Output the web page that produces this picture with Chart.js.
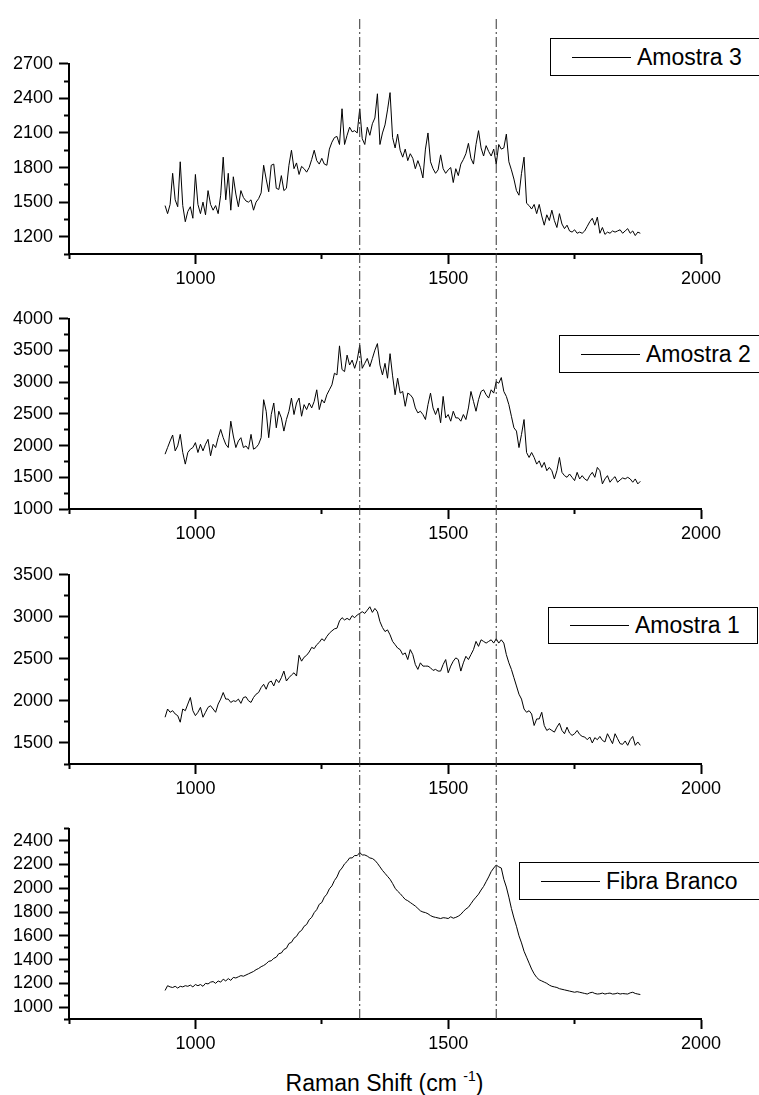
<!DOCTYPE html>
<html lang="pt">
<head>
<meta charset="utf-8">
<title>Raman Shift</title>
<script src="https://cdn.jsdelivr.net/npm/chart.js@4.4.1/dist/chart.umd.min.js"></script>
<style>
  html, body { margin: 0; padding: 0; background: #fff; }
  body { position: relative; width: 759px; height: 1095px; overflow: hidden; font-family: Arial, "Liberation Sans", sans-serif; }
  canvas { position: absolute; left: 0; }
  .legenda { position: absolute; box-sizing: border-box; height: 38px; border: 1px solid #000; display: flex; align-items: center; padding-left: 21px; font-size: 23px; color: #000; white-space: nowrap; }
  .legenda .traco { display: inline-block; width: 59px; height: 1px; background: #000; margin-right: 6px; }
  #titulo { position: absolute; left: 0; width: 769px; top: 1072px; text-align: center; font-size: 23px; line-height: 1; color: #000; white-space: nowrap; }
  #titulo sup { font-size: 14px; vertical-align: 10px; line-height: 0; }
</style>
</head>
<body>

<div class="legenda" style="left:550px; top:38px; width:215px;"><span class="traco"></span>Amostra 3</div>
<div class="legenda" style="left:559px; top:335px; width:210px;"><span class="traco"></span>Amostra 2</div>
<div class="legenda" style="left:548px; top:607px; width:210px; height:37px;"><span class="traco"></span>Amostra 1</div>
<div class="legenda" style="left:519px; top:862px; width:250px;"><span class="traco"></span>Fibra Branco</div>
<div id="titulo">Raman Shift (cm <sup>-1</sup>)</div>

<script>
// deslocamento Raman (cm-1), um ponto a cada 5
const ramanShift = [
  940, 945, 950, 955, 960, 965, 970, 975, 980, 985, 990, 995, 1000, 1005, 1010, 1015, 1020, 1025, 1030, 1035,
  1040, 1045, 1050, 1055, 1060, 1065, 1070, 1075, 1080, 1085, 1090, 1095, 1100, 1105, 1110, 1115, 1120, 1125, 1130, 1135,
  1140, 1145, 1150, 1155, 1160, 1165, 1170, 1175, 1180, 1185, 1190, 1195, 1200, 1205, 1210, 1215, 1220, 1225, 1230, 1235,
  1240, 1245, 1250, 1255, 1260, 1265, 1270, 1275, 1280, 1285, 1290, 1295, 1300, 1305, 1310, 1315, 1320, 1325, 1330, 1335,
  1340, 1345, 1350, 1355, 1360, 1365, 1370, 1375, 1380, 1385, 1390, 1395, 1400, 1405, 1410, 1415, 1420, 1425, 1430, 1435,
  1440, 1445, 1450, 1455, 1460, 1465, 1470, 1475, 1480, 1485, 1490, 1495, 1500, 1505, 1510, 1515, 1520, 1525, 1530, 1535,
  1540, 1545, 1550, 1555, 1560, 1565, 1570, 1575, 1580, 1585, 1590, 1595, 1600, 1605, 1610, 1615, 1620, 1625, 1630, 1635,
  1640, 1645, 1650, 1655, 1660, 1665, 1670, 1675, 1680, 1685, 1690, 1695, 1700, 1705, 1710, 1715, 1720, 1725, 1730, 1735,
  1740, 1745, 1750, 1755, 1760, 1765, 1770, 1775, 1780, 1785, 1790, 1795, 1800, 1805, 1810, 1815, 1820, 1825, 1830, 1835,
  1840, 1845, 1850, 1855, 1860, 1865, 1870, 1875, 1880
];

// intensidades
const amostra3 = [
  1470, 1400, 1480, 1750, 1520, 1460, 1850, 1470, 1330, 1420, 1460, 1360, 1740, 1480, 1400, 1500, 1390, 1600, 1480, 1430,
  1470, 1400, 1560, 1890, 1520, 1750, 1430, 1720, 1570, 1460, 1600, 1540, 1510, 1500, 1520, 1430, 1500, 1530, 1580, 1820,
  1700, 1590, 1820, 1830, 1620, 1610, 1730, 1600, 1620, 1820, 1950, 1790, 1840, 1740, 1810, 1790, 1760, 1800, 1870, 1950,
  1860, 1830, 1880, 1830, 1820, 1960, 2020, 2060, 2070, 2000, 2310, 2000, 2080, 2150, 2110, 2120, 2100, 2310, 2050, 2000,
  2150, 2080, 2180, 2230, 2440, 2000, 2100, 2170, 2300, 2450, 2060, 1970, 2090, 1950, 1890, 1960, 1860, 1920, 1880, 1790,
  1860, 1800, 1710, 1960, 2100, 1850, 1790, 1750, 1780, 1910, 1790, 1750, 1780, 1800, 1670, 1790, 1730, 1830, 1870, 1920,
  2010, 1880, 1830, 2000, 2120, 1970, 1900, 1990, 1940, 1900, 1960, 1830, 2000, 1960, 1970, 2090, 1850, 1780, 1700, 1600,
  1560, 1750, 1890, 1490, 1470, 1440, 1480, 1400, 1480, 1380, 1300, 1390, 1340, 1430, 1340, 1280, 1400, 1310, 1270, 1300,
  1250, 1240, 1260, 1230, 1240, 1230, 1250, 1290, 1330, 1360, 1300, 1370, 1230, 1280, 1220, 1240, 1230, 1250, 1240, 1250,
  1260, 1230, 1250, 1270, 1230, 1250, 1210, 1240, 1230
];

const amostra2 = [
  1865, 1969, 2073, 2167, 1917, 1995, 2177, 1891, 1708, 1891, 1943, 1969, 2047, 1891, 2021, 1917, 2021, 2099, 1839, 2021,
  1969, 2125, 2255, 2125, 2021, 1969, 2385, 2151, 1969, 2073, 2125, 1969, 1995, 1943, 2177, 1943, 1969, 2021, 2125, 2724,
  2542, 2125, 2490, 2672, 2281, 2542, 2437, 2229, 2411, 2542, 2750, 2490, 2672, 2750, 2463, 2646, 2568, 2672, 2594, 2698,
  2880, 2568, 2724, 2672, 2802, 2880, 2958, 3141, 3115, 3573, 3200, 3167, 3427, 3271, 3349, 3219, 3349, 3583, 3219, 3297,
  3375, 3245, 3375, 3505, 3609, 3271, 3115, 3297, 3063, 3450, 3100, 2802, 3063, 2828, 2854, 2620, 2828, 2802, 2750, 2594,
  2516, 2542, 2490, 2411, 2646, 2828, 2594, 2490, 2594, 2360, 2776, 2437, 2490, 2385, 2542, 2437, 2437, 2385, 2490, 2411,
  2594, 2854, 2698, 2542, 2724, 2854, 2880, 2802, 2750, 2880, 2828, 3010, 2984, 3073, 2854, 2776, 2646, 2463, 2281, 2229,
  1969, 2177, 2411, 1891, 1813, 1891, 1813, 1708, 1760, 1656, 1735, 1604, 1656, 1604, 1474, 1604, 1813, 1578, 1526, 1500,
  1552, 1500, 1448, 1578, 1474, 1526, 1474, 1448, 1526, 1578, 1500, 1656, 1604, 1396, 1474, 1526, 1422, 1474, 1510, 1422,
  1458, 1490, 1474, 1500, 1474, 1422, 1474, 1396, 1437
];

const amostra1 = [
  1806, 1904, 1865, 1884, 1845, 1825, 1747, 1904, 1884, 1963, 2041, 1884, 1825, 1865, 1924, 1806, 1865, 1924, 1943, 1904,
  1865, 1963, 2022, 2100, 2022, 2022, 1982, 2002, 1994, 2022, 1971, 2041, 2049, 2002, 1982, 2041, 2080, 2100, 2159, 2198,
  2139, 2218, 2237, 2178, 2257, 2218, 2276, 2355, 2237, 2276, 2308, 2335, 2296, 2543, 2473, 2520, 2543, 2582, 2637, 2622,
  2669, 2696, 2739, 2716, 2767, 2806, 2833, 2857, 2865, 2951, 2990, 2963, 2982, 2963, 3014, 2990, 3022, 3041, 3061, 3041,
  3080, 3120, 3053, 3100, 3061, 2943, 2873, 2825, 2845, 2786, 2708, 2669, 2629, 2610, 2551, 2571, 2492, 2610, 2551, 2433,
  2375, 2453, 2414, 2414, 2414, 2394, 2363, 2375, 2355, 2355, 2433, 2492, 2335, 2414, 2473, 2512, 2492, 2355, 2453, 2531,
  2492, 2551, 2610, 2708, 2649, 2727, 2708, 2688, 2708, 2727, 2688, 2739, 2688, 2727, 2688, 2551, 2453, 2375, 2276, 2178,
  2080, 2022, 1904, 1865, 1884, 1845, 1708, 1786, 1786, 1865, 1708, 1649, 1669, 1649, 1629, 1688, 1735, 1649, 1610, 1688,
  1618, 1590, 1610, 1649, 1602, 1578, 1571, 1539, 1571, 1500, 1563, 1539, 1578, 1531, 1512, 1610, 1551, 1492, 1610, 1551,
  1492, 1484, 1524, 1472, 1539, 1578, 1472, 1512, 1472
];

const fibraBranco = [
  1140, 1180, 1170, 1165, 1175, 1160, 1175, 1170, 1180, 1175, 1185, 1170, 1190, 1180, 1190, 1175, 1200, 1195, 1210, 1215,
  1200, 1220, 1210, 1235, 1220, 1240, 1225, 1250, 1245, 1255, 1265, 1260, 1270, 1280, 1290, 1300, 1315, 1325, 1340, 1350,
  1365, 1385, 1390, 1410, 1420, 1450, 1455, 1485, 1495, 1535, 1545, 1580, 1595, 1630, 1645, 1680, 1695, 1735, 1755, 1795,
  1820, 1865, 1880, 1925, 1950, 1995, 2020, 2065, 2095, 2145, 2170, 2205, 2225, 2255, 2255, 2275, 2275, 2300, 2280, 2280,
  2270, 2255, 2250, 2235, 2210, 2180, 2150, 2125, 2100, 2075, 2040, 2000, 1975, 1955, 1930, 1906, 1895, 1880, 1865, 1850,
  1830, 1810, 1800, 1795, 1785, 1770, 1760, 1755, 1750, 1745, 1752, 1750, 1745, 1760, 1748, 1755, 1765, 1780, 1805, 1825,
  1840, 1870, 1900, 1925, 1950, 1985, 2015, 2055, 2095, 2140, 2170, 2195, 2180, 2170, 2075, 2010, 1925, 1830, 1750, 1680,
  1600, 1540, 1470, 1420, 1370, 1320, 1280, 1250, 1230, 1220, 1210, 1200, 1185, 1175, 1170, 1165, 1155, 1150, 1145, 1140,
  1135, 1130, 1125, 1130, 1125, 1120, 1115, 1110, 1120, 1125, 1115, 1110, 1112, 1118, 1110, 1115, 1118, 1110, 1112, 1118,
  1110, 1114, 1112, 1110, 1120, 1125, 1115, 1110, 1106
];

// linhas verticais nas bandas D e G
const picos = [1325, 1595];

// marcas dos eixos
const xTicksMaiores = [1000, 1500, 2000];
const xTicksMenores = [750, 1250, 1750];
const yTicksAmostra3 = [1200, 1500, 1800, 2100, 2400, 2700];
const yMenoresAmostra3 = [1050, 1350, 1650, 1950, 2250, 2550];
const yTicksAmostra2 = [1000, 1500, 2000, 2500, 3000, 3500, 4000];
const yMenoresAmostra2 = [1250, 1750, 2250, 2750, 3250, 3750];
const yTicksAmostra1 = [1500, 2000, 2500, 3000, 3500];
const yMenoresAmostra1 = [1250, 1750, 2250, 2750, 3250];
const yTicksFibra = [1000, 1200, 1400, 1600, 1800, 2000, 2200, 2400];
const yMenoresFibra = [900, 1100, 1300, 1500, 1700, 1900, 2100, 2300, 2500];

Chart.defaults.font.family = 'Arial, "Liberation Sans", sans-serif';
Chart.defaults.font.size = 18;
Chart.defaults.color = '#000';

const paineis = [
  { nome: 'Amostra 3', serie: amostra3, min: 1050, max: 2700, maiores: yTicksAmostra3, menores: yMenoresAmostra3, topo: 62, altura: 192 },
  { nome: 'Amostra 2', serie: amostra2, min: 1000, max: 4000, maiores: yTicksAmostra2, menores: yMenoresAmostra2, topo: 317, altura: 192 },
  { nome: 'Amostra 1', serie: amostra1, min: 1250, max: 3500, maiores: yTicksAmostra1, menores: yMenoresAmostra1, topo: 573, altura: 191 },
  { nome: 'Fibra Branco', serie: fibraBranco, min: 900, max: 2500, maiores: yTicksFibra, menores: yMenoresFibra, topo: 827, altura: 192 }
];

const LARGURA = 759;
const ESQ = 69;       // largura reservada ao eixo y
const DIR = 58;       // espaco a direita da area do grafico
const ACIMA = 15;
const EIXO_X = 45;

function fixarTicks(valores) {
  return function (scale) {
    scale.ticks = valores.map(v => ({ value: v }));
  };
}

function eixoMaior(pos, min, max, valores, tamanho, padding) {
  return {
    type: 'linear', position: pos, min, max, weight: 1,
    afterBuildTicks: fixarTicks(valores),
    afterFit: function (scale) {
      if (pos === 'left') scale.width = tamanho; else scale.height = tamanho;
    },
    grid: { drawOnChartArea: false, tickLength: 10, tickWidth: 2, tickColor: '#000' },
    border: { display: true, color: '#000', width: 2 },
    ticks: { autoSkip: false, maxRotation: 0, padding, color: '#000', callback: v => String(v) }
  };
}

function eixoMenor(pos, min, max, valores) {
  return {
    type: 'linear', position: pos, min, max, weight: 0,
    afterBuildTicks: fixarTicks(valores),
    afterFit: function (scale) {
      if (pos === 'left') scale.width = 0; else scale.height = 0;
    },
    grid: { drawOnChartArea: false, tickLength: 5, tickWidth: 2, tickColor: '#000' },
    border: { display: false },
    ticks: { display: false, autoSkip: false }
  };
}

function criarPainel(p) {
  const canvas = document.createElement('canvas');
  canvas.width = LARGURA;
  canvas.height = p.altura + ACIMA + EIXO_X;
  canvas.style.top = (p.topo - ACIMA) + 'px';
  document.body.appendChild(canvas);

  new Chart(canvas, {
    type: 'line',
    data: {
      datasets: [{
        label: p.nome,
        data: ramanShift.map((x, i) => ({ x: x, y: p.serie[i] })),
        borderColor: '#000',
        borderWidth: 1,
        pointRadius: 0,
        tension: 0,
        fill: false
      }]
    },
    options: {
      responsive: false,
      animation: false,
      events: [],
      layout: { padding: { left: 0, right: DIR, top: ACIMA, bottom: 0 } },
      plugins: { legend: { display: false }, tooltip: { enabled: false } },
      scales: {
        x: eixoMaior('bottom', 750, 2000, xTicksMaiores, EIXO_X, 4),
        xMenor: eixoMenor('bottom', 750, 2000, xTicksMenores),
        y: eixoMaior('left', p.min, p.max, p.maiores, ESQ, 6),
        yMenor: eixoMenor('left', p.min, p.max, p.menores)
      }
    }
  });
}

paineis.forEach(criarPainel);

// linhas traco-ponto que atravessam os quatro graficos
const sobreposicao = document.createElement('canvas');
sobreposicao.width = LARGURA;
sobreposicao.height = 1095;
sobreposicao.style.top = '0px';
document.body.appendChild(sobreposicao);

new Chart(sobreposicao, {
  type: 'line',
  data: {
    datasets: picos.map(p => ({
      data: [{ x: p, y: 0 }, { x: p, y: 1 }],
      borderColor: '#333',
      borderWidth: 1,
      borderDash: [10, 3, 2, 3],
      pointRadius: 0
    }))
  },
  options: {
    responsive: false,
    animation: false,
    events: [],
    layout: { padding: { left: ESQ, right: DIR, top: 16, bottom: 1095 - 1019 } },
    plugins: { legend: { display: false }, tooltip: { enabled: false } },
    scales: {
      x: { type: 'linear', min: 750, max: 2000, display: false },
      y: { type: 'linear', min: 0, max: 1, display: false }
    }
  }
});
</script>
</body>
</html>
